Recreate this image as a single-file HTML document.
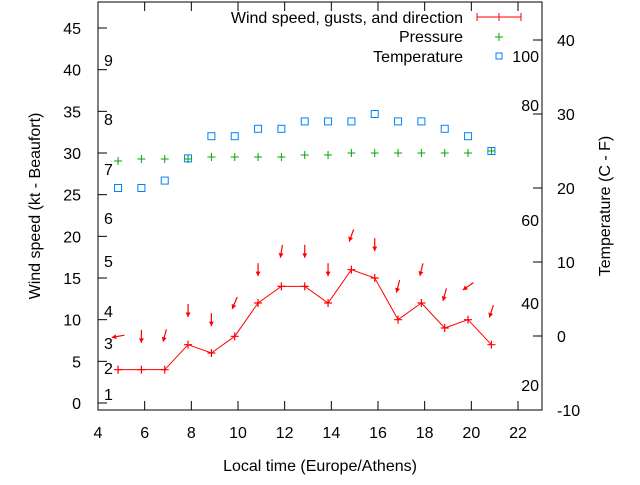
<!DOCTYPE html>
<html><head><meta charset="utf-8"><style>
body{margin:0;background:#fff}
svg text{font-family:"Liberation Sans",sans-serif;font-size:16px;fill:#000}
</style></head><body>
<svg id="c" width="640" height="480" xmlns="http://www.w3.org/2000/svg">
<rect x="0" y="0" width="640" height="480" fill="#fff"/>
<g id="plot"></g>
</svg>
<script>
const hours=[4.86,5.86,6.86,7.86,8.86,9.86,10.86,11.86,12.86,13.86,14.86,15.86,16.86,17.86,18.86,19.86,20.86];
const wind=[4,4,4,7,6,8,12,14,14,12,16,15,10,12,9,10,7];
const gust=[8,8,8.1,11.1,10,12,16,18.2,18.2,16,20.1,19,14,16,13,14,11];
const dirDeg=[80,0,15,0,0,23,0,9,0,0,20,0,14,14,15,55,18];
const pressure=[29.04,29.28,29.28,29.28,29.52,29.52,29.52,29.52,29.76,29.76,30,30,30,30,30,30,30.24];
const tempC=[20,20,21,24,27,27,28,28,29,29,29,30,29,29,28,27,25];
const xTicks=[4,6,8,10,12,14,16,18,20,22];
const yTicks=[0,5,10,15,20,25,30,35,40,45];
const cTicks=[-10,0,10,20,30,40];
const bft=[["1",394],["2",368],["3",343],["4",311],["5",261],["6",218],["7",169],["8",119],["9",60]];
const fLabels=[["100",56],["80",105],["60",220],["40",303],["20",385]];

const L=98,R=542,T=2,B=410;
const X=v=>L+(v-4)*23.333;
const Y=v=>403-v*8.333;
const YC=v=>336-v*7.4;
const NS="http://www.w3.org/2000/svg";
const g=document.getElementById('plot');
function mk(tag,attrs,parent){const e=document.createElementNS(NS,tag);for(const k in attrs)e.setAttribute(k,attrs[k]);(parent||g).appendChild(e);return e;}
function txt(s,x,y,anchor){const t=mk('text',{x:x,y:y,'text-anchor':anchor||'start'});t.textContent=s;return t;}

let e=mk('rect',{x:L,y:T,width:R-L,height:B-T,fill:'none',stroke:'#000','stroke-width':1});



xTicks.forEach(v=>{
  mk('line',{x1:X(v),y1:B,x2:X(v),y2:B-9,stroke:'#000'});
  mk('line',{x1:X(v),y1:T,x2:X(v),y2:T+9,stroke:'#000'});
  const t=txt(String(v),X(v),438,'middle');
  
  
});
yTicks.forEach(v=>{
  mk('line',{x1:L,y1:Y(v),x2:L+9,y2:Y(v),stroke:'#000'});
  const t=txt(String(v),81,Y(v)+6,'end');
  
  
});
cTicks.forEach(v=>{
  mk('line',{x1:R,y1:YC(v),x2:R-9,y2:YC(v),stroke:'#000'});
  const t=txt(String(v),557,YC(v)+6,'start');
  
  
});
bft.forEach(b=>{
  const t=txt(b[0],104,b[1]+6,'start');
  
  
});
fLabels.forEach(f=>{
  const t=txt(f[0],539,f[1]+6,'end');
  
  
});

e=txt('Local time (Europe/Athens)',320,471,'middle');


e=txt('Wind speed (kt - Beaufort)',0,0,'middle');e.setAttribute('transform','translate(40,206) rotate(-90)');


e=txt('Temperature (C - F)',0,0,'middle');e.setAttribute('transform','translate(610,206) rotate(-90)');



tempC.forEach((v,i)=>{
  const r=mk('rect',{x:X(hours[i])-3.5,y:YC(v)-3.5,width:7,height:7,fill:'none',stroke:'#0080ff','stroke-width':1});
  
  
});
pressure.forEach((v,i)=>{
  const p=mk('path',{d:`M${X(hours[i])-4},${Y(v)}h8M${X(hours[i])},${Y(v)-4}v8`,stroke:'#00a800','stroke-width':1});
  
  
});
e=mk('polyline',{points:wind.map((v,i)=>X(hours[i])+','+Y(v)).join(' '),fill:'none',stroke:'#f00','stroke-width':1});


wind.forEach((v,i)=>{
  const p=mk('path',{d:`M${X(hours[i])-4},${Y(v)}h8M${X(hours[i])},${Y(v)-4}v8`,stroke:'#f00','stroke-width':1.2});
  
  
});
gust.forEach((v,i)=>{
  const a=dirDeg[i]*Math.PI/180,dx=-Math.sin(a),dy=Math.cos(a),len=13;
  const cx=X(hours[i]),cy=Y(v);
  const x1=cx-dx*len/2,y1=cy-dy*len/2,x2=cx+dx*len/2,y2=cy+dy*len/2;
  const px=-dy,py=dx;
  const ag=mk('g',{});
  
  
  mk('line',{x1:x1,y1:y1,x2:x2,y2:y2,stroke:'#f00','stroke-width':1.2},ag);
  mk('polygon',{points:`${x2},${y2} ${x2-dx*4.5+px*2.5},${y2-dy*4.5+py*2.5} ${x2-dx*4.5-px*2.5},${y2-dy*4.5-py*2.5}`,fill:'#f00'},ag);
});

const lg=mk('g',{});


e=txt('Wind speed, gusts, and direction',463,23,'end');lg.appendChild(e);


mk('path',{d:'M477,17H521M477,13v8M521,13v8M499,13v8',stroke:'#f00','stroke-width':1},lg);
e=txt('Pressure',463,42,'end');lg.appendChild(e);


mk('path',{d:'M495,37h8M499,33v8',stroke:'#00a800','stroke-width':1},lg);
e=txt('Temperature',463,62,'end');lg.appendChild(e);


mk('rect',{x:496,y:53,width:6,height:6,fill:'none',stroke:'#0080ff'},lg);
</script>
</body></html>
